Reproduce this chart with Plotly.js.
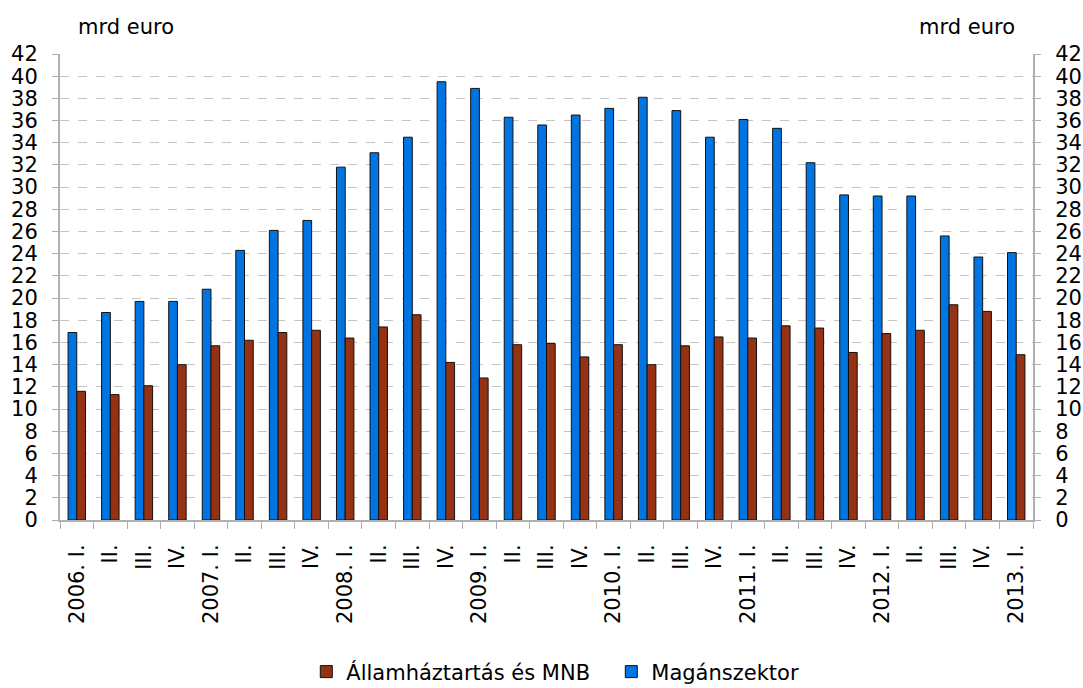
<!DOCTYPE html>
<html>
<head>
<meta charset="utf-8">
<script src="https://cdn.plot.ly/plotly-3.0.1.min.js"></script>
<style>html,body{margin:0;padding:0;background:#fff;}#chart{width:1083px;height:688px;}</style>
</head>
<body>
<div id="chart"></div>
<script>
const tickLabels = ["2006. I.","II.","III.","IV.","2007. I.","II.","III.","IV.","2008. I.","II.","III.","IV.","2009. I.","II.","III.","IV.","2010. I.","II.","III.","IV.","2011. I.","II.","III.","IV.","2012. I.","II.","III.","IV.","2013. I."];
const maganszektor = [16.9,18.7,19.7,19.7,20.8,24.3,26.1,27.0,31.8,33.1,34.5,39.5,38.9,36.3,35.6,36.5,37.1,38.1,36.9,34.5,36.1,35.3,32.2,29.3,29.2,29.2,25.6,23.7,24.1];
const allamhaztartas = [11.6,11.3,12.1,14.0,15.7,16.2,16.9,17.1,16.4,17.4,18.5,14.2,12.8,15.8,15.9,14.7,15.8,14.0,15.7,16.5,16.4,17.5,17.3,15.1,16.8,17.1,19.4,18.8,14.9];
const seriesNames = ["Magánszektor","Államháztartás és MNB"];
const unitLabel = "mrd euro";

const xIdx = tickLabels.map((_, i) => i);
const boundaries = tickLabels.map((_, i) => i - 0.5).concat([tickLabels.length - 0.5]);
const font = {family: "DejaVu Sans, sans-serif", size: 21, color: "#000"};

const traces = [
  {type: "bar", x: xIdx, y: maganszektor, name: seriesNames[0], legendrank: 2,
   marker: {color: "#0074E0", line: {color: "#111", width: 1}}, hoverinfo: "y"},
  {type: "bar", x: xIdx, y: allamhaztartas, name: seriesNames[1], legendrank: 1,
   marker: {color: "#953213", line: {color: "#111", width: 1}}, hoverinfo: "y"},
  {type: "scatter", mode: "lines", x: xIdx, y: maganszektor, yaxis: "y2", opacity: 0,
   showlegend: false, hoverinfo: "skip", line: {width: 0}}
];

const yCommon = {
  range: [0, 42], dtick: 2, tick0: 0, ticks: "outside", ticklen: 6, tickcolor: "#b0b0b0",
  showline: true, linecolor: "#b0b0b0", linewidth: 2, zeroline: false,
  tickfont: font, fixedrange: true
};

const layout = {
  width: 1083, height: 688,
  margin: {l: 60, r: 50, t: 54, b: 168},
  paper_bgcolor: "#fff", plot_bgcolor: "#fff",
  font: font,
  barmode: "group", bargap: 0.48, bargroupgap: 0,
  showlegend: true,
  legend: {orientation: "h", x: 0.5666, xanchor: "center", xref: "paper",
           y: 0.0233, yanchor: "middle", yref: "container",
           font: font, traceorder: "normal", entrywidth: 260},
  xaxis: {
    range: [-0.5, tickLabels.length - 0.5], tickmode: "array", tickvals: xIdx, ticktext: tickLabels,
    tickangle: -90, ticks: "", showline: true, linecolor: "#b0b0b0", linewidth: 2,
    showgrid: false, zeroline: false, tickfont: font, fixedrange: true, ticklabelstandoff: 14,
    minor: {tickmode: "array", tickvals: boundaries, ticks: "outside", ticklen: 7, tickcolor: "#b0b0b0", showgrid: false}
  },
  yaxis: Object.assign({}, yCommon, {side: "left", ticklabelstandoff: 10, showgrid: true, gridcolor: "#c4c4c4", griddash: "dash", gridwidth: 1}),
  yaxis2: Object.assign({}, yCommon, {side: "right", overlaying: "y", showgrid: false, ticklabelstandoff: 10}),
  annotations: [
    {text: unitLabel, xref: "paper", yref: "paper", x: 0.0164, y: 1.058, xanchor: "left", yanchor: "middle", showarrow: false, font: font},
    {text: unitLabel, xref: "paper", yref: "paper", x: 0.9836, y: 1.058, xanchor: "right", yanchor: "middle", showarrow: false, font: font}
  ]
};

Plotly.newPlot("chart", traces, layout, {displayModeBar: false, staticPlot: true});
</script>
</body>
</html>
